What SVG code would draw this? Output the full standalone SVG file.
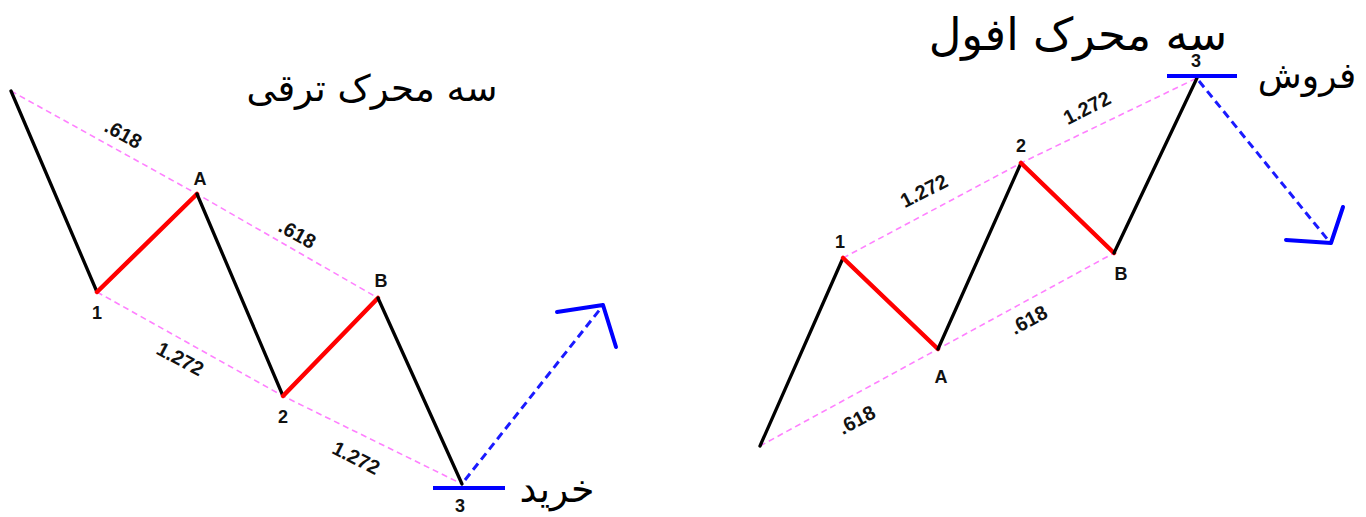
<svg xmlns="http://www.w3.org/2000/svg" width="1366" height="517" viewBox="0 0 1366 517">
<style>
.blk{stroke:#000;stroke-width:3.3;fill:none;stroke-linecap:round}
.red{stroke:#ff0000;stroke-width:4.5;fill:none;stroke-linecap:round}
.pink{stroke:#ff80ff;stroke-width:1.6;fill:none;stroke-dasharray:6 4}
.bdash{stroke:#1a1aff;stroke-width:3;fill:none;stroke-dasharray:8 5}
.bsol{stroke:#0000ff;stroke-width:4;fill:none;stroke-linecap:round;stroke-linejoin:round}
.bar{stroke:#0000ff;stroke-width:4;fill:none}
.lbl{font-family:"Liberation Sans",Arial,sans-serif;font-weight:bold;font-size:18px;fill:#111;text-anchor:middle}
.num{font-family:"Liberation Sans",Arial,sans-serif;font-weight:bold;font-size:20px;fill:#111;text-anchor:middle}
.fa{font-family:"DejaVu Sans",sans-serif;fill:#000;text-anchor:middle}
</style>
<rect width="1366" height="517" fill="#fff"/>
<g id="connectors">
  <polyline class="pink" points="11,91 197,194 378,298"/>
  <polyline class="pink" points="97,292 283,396 462,484"/>
  <line class="blk" x1="11" y1="91" x2="97" y2="292"/>
  <line class="red" x1="97" y1="292" x2="197" y2="194"/>
  <line class="blk" x1="197" y1="194" x2="283" y2="396"/>
  <line class="red" x1="283" y1="396" x2="378" y2="298"/>
  <line class="blk" x1="378" y1="298" x2="462" y2="484"/>
  <line class="bdash" x1="465" y1="480" x2="601" y2="308"/>
  <polyline class="bsol" points="557,312 603,305 616,347"/>
  <line class="bar" x1="433" y1="488" x2="505" y2="488"/>
  <polyline class="pink" points="760,446 938,349 1114,253"/>
  <polyline class="pink" points="843,258 1021,163 1197,78"/>
  <line class="blk" x1="760" y1="446" x2="843" y2="258"/>
  <line class="red" x1="843" y1="258" x2="938" y2="349"/>
  <line class="blk" x1="938" y1="349" x2="1021" y2="163"/>
  <line class="red" x1="1021" y1="163" x2="1114" y2="253"/>
  <line class="blk" x1="1114" y1="253" x2="1197" y2="78"/>
  <line class="bdash" x1="1199" y1="81" x2="1328" y2="240"/>
  <polyline class="bsol" points="1286,240 1331,243 1343,207"/>
  <line class="bar" x1="1167" y1="76" x2="1237" y2="76"/>
</g>
<g id="left-labels">
  <g id="L-1"><text class="lbl" x="97" y="319">1</text></g>
  <g id="L-A"><text class="lbl" x="200" y="185">A</text></g>
  <g id="L-2"><text class="lbl" x="283" y="423">2</text></g>
  <g id="L-B"><text class="lbl" x="381" y="287">B</text></g>
  <g id="L-3"><text class="lbl" x="460" y="512">3</text></g>
  <text class="num" transform="translate(120,140) rotate(29)">.618</text>
  <text class="num" transform="translate(294,240) rotate(29)">.618</text>
  <text class="num" transform="translate(177,365) rotate(28)">1.272</text>
  <text class="num" transform="translate(353,464) rotate(27)">1.272</text>
</g>
<g id="right-labels">
  <g id="R-1"><text class="lbl" x="840" y="248">1</text></g>
  <g id="R-A"><text class="lbl" x="941" y="383">A</text></g>
  <g id="R-2"><text class="lbl" x="1021" y="152">2</text></g>
  <g id="R-B"><text class="lbl" x="1121" y="280">B</text></g>
  <g id="R-3"><text class="lbl" x="1196" y="67">3</text></g>
  <text class="num" transform="translate(860,426) rotate(-28)">.618</text>
  <text class="num" transform="translate(1032,326) rotate(-28)">.618</text>
  <text class="num" transform="translate(927,197) rotate(-27)">1.272</text>
  <text class="num" transform="translate(1090,114) rotate(-27)">1.272</text>
</g>
<g id="title-left"><text class="fa" x="372" y="101" font-size="37">سه محرک ترقی</text></g>
<g id="title-right"><text class="fa" x="1078" y="50" font-size="45">سه محرک افول</text></g>
<g id="buy"><text class="fa" x="557" y="502" font-size="38">خرید</text></g>
<g id="sell"><text class="fa" x="1307" y="88" font-size="36">فروش</text></g>
</svg>
